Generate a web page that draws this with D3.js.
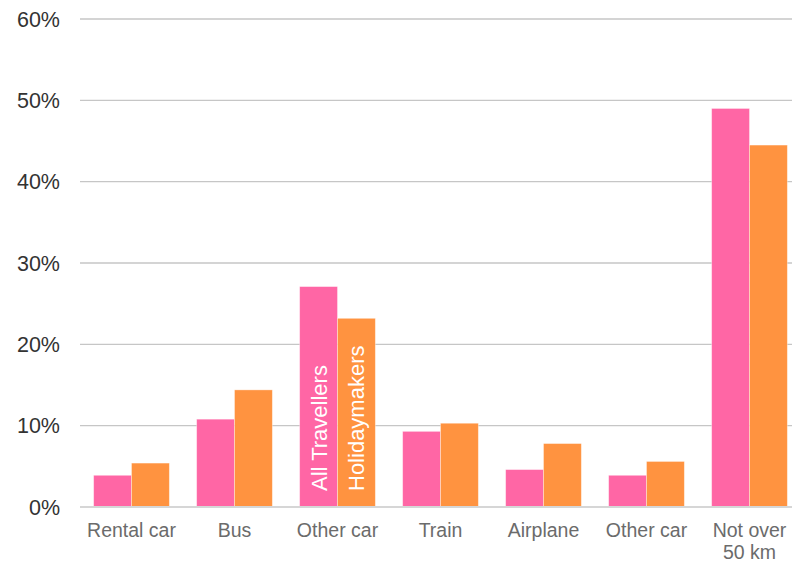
<!DOCTYPE html>
<html lang="en">
<head>
    <meta charset="UTF-8">
    <title>Travel mode shares</title>
    <script src="https://d3js.org/d3.v7.min.js"></script>
    <style>
        body { margin: 0; background-color: #ffffff; }
        svg { display: block; font-family: "Liberation Sans", Arial, sans-serif; }
        .grid line { stroke: #c6c6c6; stroke-width: 1.3; }
        .ytick { fill: #333333; font-size: 21.5px; }
        .xtick { fill: #6b6b6b; font-size: 19.5px; }
        .inlabel { fill: #ffffff; font-size: 22px; }
    </style>
</head>
<body>
    <div id="chart"></div>
    <script type="text/javascript">
        // data
        const categories = ["Rental car", "Bus", "Other car", "Train", "Airplane", "Other car ", "Not over 50 km"];
        const categoryLines = [["Rental car"], ["Bus"], ["Other car"], ["Train"], ["Airplane"], ["Other car"], ["Not over", "50 km"]];
        const seriesNames = ["All Travellers", "Holidaymakers"];
        const allTravellers = [3.9, 10.8, 27.1, 9.3, 4.6, 3.9, 49.0];
        const holidaymakers = [5.4, 14.4, 23.2, 10.3, 7.8, 5.6, 44.5];
        const yTicks = [0, 10, 20, 30, 40, 50, 60];
        const colors = ["#ff66a5", "#ff9340"];

        const width = 792, height = 564;
        const plot = {left: 80, right: 801, top: 19, bottom: 507};

        const svg = d3.select("#chart").append("svg")
            .attr("width", width)
            .attr("height", height);

        const x = d3.scaleBand()
            .domain(categories)
            .range([plot.left, plot.right])
            .paddingInner(0.265)
            .paddingOuter(0.1325);

        const x1 = d3.scaleBand()
            .domain(seriesNames)
            .range([0, x.bandwidth()]);

        const y = d3.scaleLinear().domain([0, 60]).range([plot.bottom, plot.top]);

        // gridlines
        svg.append("g").attr("class", "grid")
            .selectAll("line")
            .data(yTicks.filter(d => d > 0))
            .join("line")
            .attr("x1", plot.left).attr("x2", width)
            .attr("y1", d => y(d)).attr("y2", d => y(d));

        // y tick labels
        svg.append("g")
            .selectAll("text")
            .data(yTicks)
            .join("text")
            .attr("class", "ytick")
            .attr("x", 60)
            .attr("y", d => y(d))
            .attr("dy", "0.36em")
            .attr("text-anchor", "end")
            .text(d => d + "%");

        // bars
        const rows = categories.map((c, i) => ({cat: c, vals: [allTravellers[i], holidaymakers[i]]}));
        const groups = svg.append("g")
            .selectAll("g")
            .data(rows)
            .join("g")
            .attr("transform", d => "translate(" + x(d.cat) + ",0)");

        groups.selectAll("rect")
            .data(d => d.vals.map((v, j) => ({name: seriesNames[j], v: v, j: j})))
            .join("rect")
            .attr("x", d => x1(d.name))
            .attr("width", x1.bandwidth())
            .attr("y", d => y(d.v))
            .attr("height", d => y(0) - y(d.v))
            .attr("fill", d => colors[d.j])
            .attr("stroke", "#ffffff")
            .attr("stroke-opacity", 0.45)
            .attr("stroke-width", 0.8);

        // baseline
        svg.append("line")
            .attr("x1", plot.left).attr("x2", width)
            .attr("y1", y(0)).attr("y2", y(0))
            .attr("stroke", "#d6d6d6")
            .attr("stroke-width", 2);

        // series names inside the "Other car" bars
        seriesNames.forEach((name, j) => {
            const cx = x(categories[2]) + x1(name) + x1.bandwidth() / 2;
            svg.append("text")
                .attr("class", "inlabel")
                .attr("transform", "translate(" + (cx + 8) + "," + (y(0) - 16) + ") rotate(-90)")
                .text(name);
        });

        // x labels
        const xl = svg.append("g")
            .selectAll("text")
            .data(categories)
            .join("text")
            .attr("class", "xtick")
            .attr("text-anchor", "middle")
            .attr("x", d => x(d) + x.bandwidth() / 2)
            .attr("y", 537);

        xl.selectAll("tspan")
            .data((d, i) => categoryLines[i])
            .join("tspan")
            .attr("x", function() { return this.parentNode.getAttribute("x"); })
            .attr("dy", (d, k) => k === 0 ? 0 : 21.5)
            .text(d => d);
    </script>
</body>
</html>
